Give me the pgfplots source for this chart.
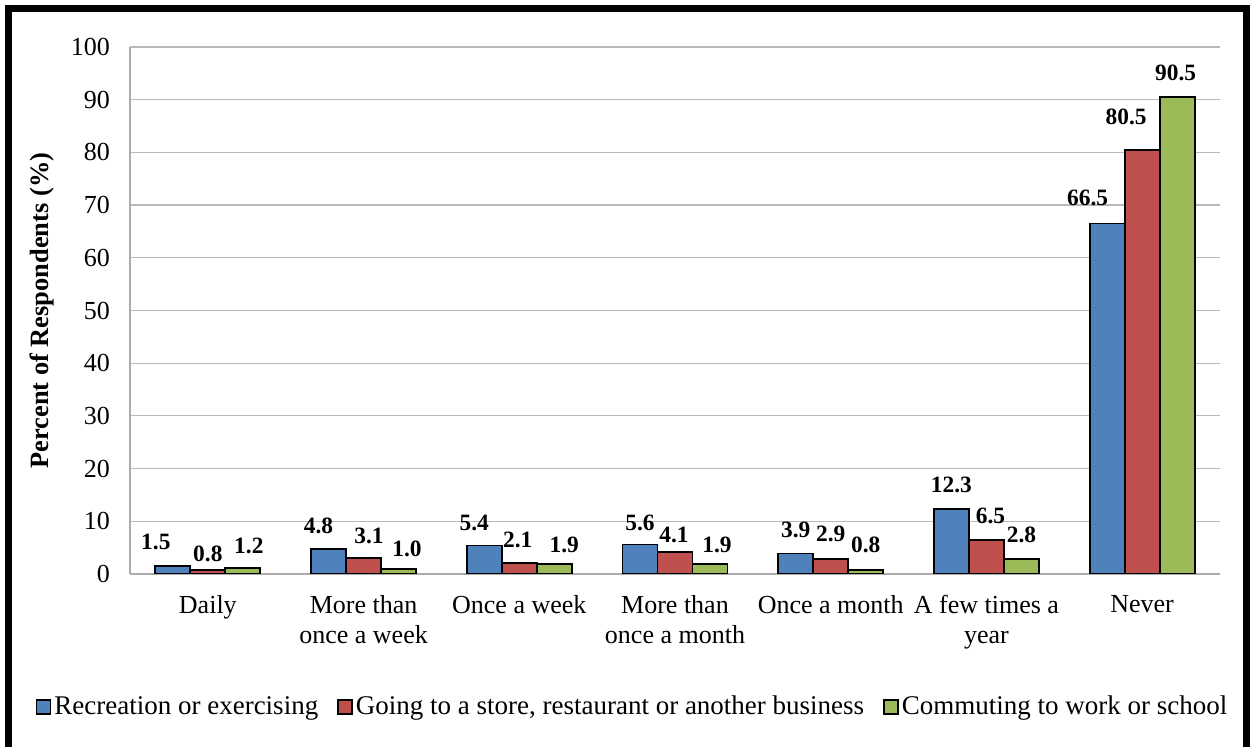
\documentclass[border=0pt]{standalone}
\usepackage{pgfplots}
\usepackage{pgfplotstable}
\pgfplotsset{compat=1.18}
\usepackage{fontspec}
\setmainfont{Liberation Serif}
\definecolor{cblue}{HTML}{4F81BD}
\definecolor{cred}{HTML}{C0504D}
\definecolor{cgreen}{HTML}{9BBB59}

\pgfplotstableread{
x y dx dy
0 1.5 -8.5 12
1 4.8 -5 11.5
2 5.4 -5 11.5
3 5.6 0 11
4 3.9 0 12
5 12.3 0 12
6 66.5 -9.75 13
}\tblue
\pgfplotstableread{
x y dx dy
0 0.8 0 7.75
1 3.1 2.75 11
2 2.1 -0.75 11.5
3 4.1 -0.5 8.5
4 2.9 0 12.5
5 6.5 2 12
6 80.5 -8 16.5
}\tred
\pgfplotstableread{
x y dx dy
0 1.2 3 11
1 1.0 4.25 10
2 1.9 5 9.5
3 1.9 3.5 9.5
4 0.8 0 12.5
5 2.8 0 12
6 90.5 -0.75 12
}\tgreen

\begin{document}
\begin{tikzpicture}
\begin{axis}[
  at={(0pt,0pt)}, anchor=south west,
  scale only axis,
  width=545pt, height=263.5pt,
  xmin=-0.5, xmax=6.5, ymin=0, ymax=100,
  ytick={0,10,...,100},
  xtick={0,1,2,3,4,5,6},
  xticklabels={Daily, More than\\once a week, Once a week, More than\\once a month, Once a month, A few times a\\year, Never},
  /pgf/number format/assume math mode=true,
  ymajorgrids,
  grid style={draw=gray!55, line width=0.6pt},
  axis x line*=bottom, axis y line*=left,
  axis line style={-, draw=gray!65, line width=0.8pt},
  major tick length=0pt,
  tick style={draw=none},
  yticklabel style={xshift=-6.5pt, font=\fontsize{13}{15}\selectfont},
  xticklabel style={align=center, yshift=-7pt, font=\fontsize{13}{15}\selectfont},
  ylabel={\bfseries Percent of Respondents (\%)},
  every axis y label/.style={at={(axis description cs:-0.0807,0.5)}, rotate=90, anchor=center, font=\fontsize{13.2}{15}\selectfont},
  ybar=0pt, bar width=17.5pt,
  legend columns=3,
  legend style={at={(axis description cs:0.4615,-0.2524)}, anchor=center, draw=none,
    font=\fontsize{13.5}{15}\selectfont,
    nodes={inner xsep=1.5pt},
    /tikz/every even column/.append style={column sep=8pt}},
  legend cell align=left,
  legend image code/.code={\draw[#1, draw=black, line width=0.8pt] (0pt,-3.5pt) rectangle (7pt,3.5pt);},
  nodes near coords={\pgfmathprintnumber[fixed,fixed zerofill,precision=1]{\pgfplotspointmeta}},
  visualization depends on={\thisrow{dx} \as \labdx},
  visualization depends on={\thisrow{dy} \as \labdy},
  nodes near coords style={anchor=center, xshift=\labdx pt, yshift=\labdy pt, font=\fontsize{11.7}{13}\selectfont\bfseries, inner sep=0pt},
]
\addplot[fill=cblue, draw=black, line width=0.9pt] table[x=x, y=y] {\tblue};
\addlegendentry{Recreation or exercising}
\addplot[fill=cred, draw=black, line width=0.9pt] table[x=x, y=y] {\tred};
\addlegendentry{Going to a store, restaurant or another business}
\addplot[fill=cgreen, draw=black, line width=0.9pt] table[x=x, y=y] {\tgreen};
\addlegendentry{Commuting to work or school}
\end{axis}
\draw[line width=3.5pt] (-60.75pt,-100pt) -- (-60.75pt,282.75pt) -- (558pt,282.75pt) -- (558pt,-100pt);
\pgfresetboundingbox
\path[use as bounding box] (-65pt,-86.5pt) rectangle (561pt,287pt);
\end{tikzpicture}
\end{document}
